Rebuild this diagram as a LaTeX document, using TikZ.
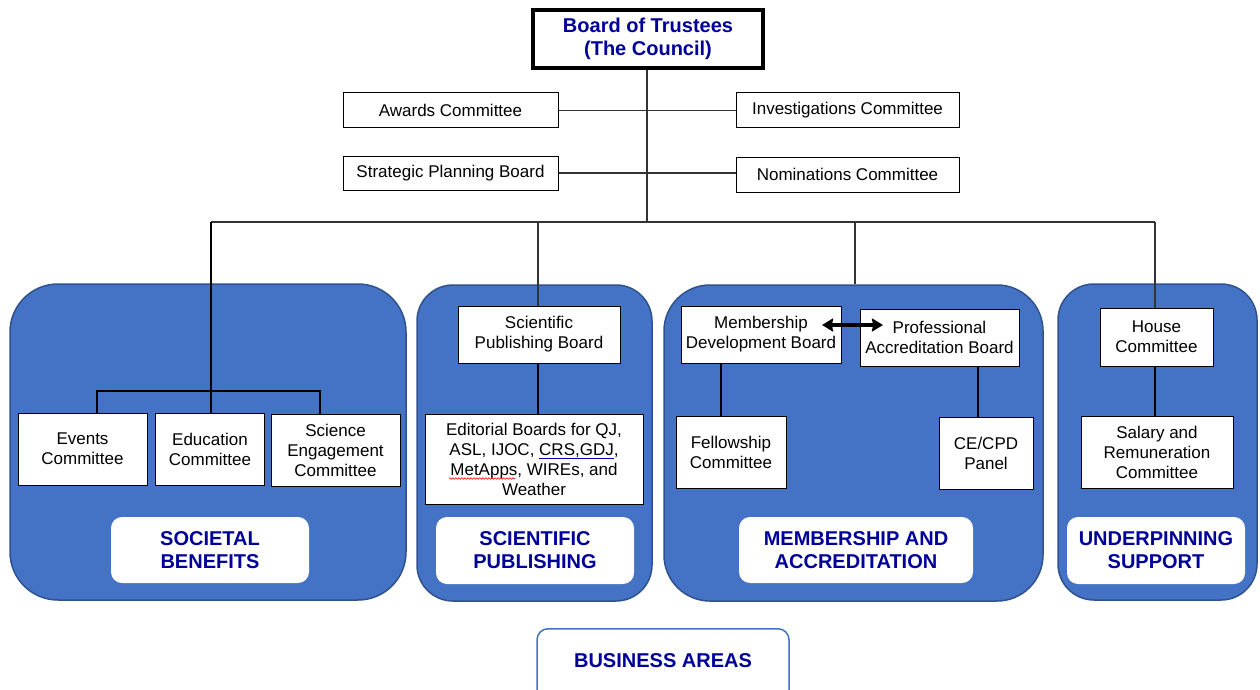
\documentclass[tikz,border=0pt]{standalone}
\usepackage{fontspec}
\setmainfont{Liberation Sans}
\usetikzlibrary{arrows.meta,decorations.pathmorphing}
\definecolor{panelblue}{HTML}{4472C4}
\definecolor{paneledge}{HTML}{2F528F}
\definecolor{navy}{RGB}{0,0,153}
\definecolor{linegrey}{HTML}{333333}
\tikzset{
  box/.style={draw=black, fill=white, text=black, align=center, inner sep=0pt, line width=1pt,
    font=\fontsize{17}{20}\selectfont},
  panel/.style={draw=paneledge, fill=panelblue, line width=1.5pt, inner sep=0pt},
  areabox/.style={fill=white, rounded corners=11pt, inner sep=0pt, align=center, text=navy,
    font=\fontsize{20}{23}\selectfont\bfseries},
  conn/.style={draw=linegrey, line width=1.2pt},
}
\begin{document}
\begin{tikzpicture}[x=1pt,y=-1pt]
\useasboundingbox (0,0) rectangle (1260,690);
% panels
\node[panel, rounded corners=48pt, minimum width=396pt, minimum height=316pt] (p1) at (208,442) {};
\node[panel, rounded corners=36pt, minimum width=235pt, minimum height=316pt] (p2) at (534.5,443) {};
\node[panel, rounded corners=46pt, minimum width=379pt, minimum height=316pt] (p3) at (853.5,443) {};
\node[panel, rounded corners=36pt, minimum width=199pt, minimum height=316pt] (p4) at (1157.5,442) {};
% board
\node[box, line width=4pt, minimum width=230pt, minimum height=58pt, text=navy,
  font=\fontsize{20}{23}\selectfont\bfseries] (board) at (648,39) {\raisebox{-2pt}{Board of Trustees}\\\raisebox{-2pt}{(The Council)}};
% committees
\node[box, minimum width=215pt, minimum height=35pt] (awards) at (450.5,110.5) {Awards Committee};
\node[box, minimum width=223pt, minimum height=35pt] (invest) at (847.5,110.5) {Investigations Committee};
\node[box, minimum width=215pt, minimum height=34pt] (strat) at (450.5,173) {Strategic Planning Board};
\node[box, minimum width=223pt, minimum height=35pt] (nomin) at (847.5,174.5) {Nominations Committee};
% bus coordinates
\coordinate (top) at (647,222);
\coordinate (b1) at (211,222);
\coordinate (b2) at (538,222);
\coordinate (b3) at (855,222);
\coordinate (b4) at (1155,222);
\draw[conn] (board.south -| top) -- (top);
\draw[conn] (awards.east) -- (awards.east -| invest.west);
\draw[conn] (strat.east) -- (strat.east -| nomin.west);
\draw[conn] (b1) -- (b4);
% societal benefits
\node[box, minimum width=129pt, minimum height=72pt] (events) at (82.5,449) {Events\\Committee};
\node[box, minimum width=109pt, minimum height=72pt] (educ) at (210,449) {Education\\Committee};
\node[box, minimum width=129pt, minimum height=72pt] (sci) at (335.5,450) {Science\\Engagement\\Committee};
\coordinate (sbL) at (97,391);
\coordinate (sbR) at (320,391);
\draw[conn, draw=black] (b1) -- (b1 |- educ.north);
\draw[conn, draw=black] (sbL |- events.north) -- (sbL) -- (sbR) -- (sbR |- sci.north);
\node[areabox, minimum width=198pt, minimum height=66pt] (l1) at (210,550) {SOCIETAL\\BENEFITS};
% scientific publishing
\node[box, minimum width=162pt, minimum height=57pt] (spb) at (539,334.5) {Scientific\\Publishing Board};
\node[box, minimum width=218pt, minimum height=90pt] (edit) at (534,459)
  {Editorial Boards for QJ,\\ASL, IJOC, {\color{blue!70!black}\underline{\color{black}CRS,GDJ}},\\MetApps, WIREs, and\\Weather};
\coordinate (wavL) at (449,478.5);
\coordinate (wavR) at (515,478.5);
\draw[red, line width=0.6pt, decorate, decoration={snake, amplitude=0.8pt, segment length=3pt}] (wavL) -- (wavR);
\draw[conn] (b2) -- (b2 |- spb.north);
\draw[conn, draw=black] (b2 |- spb.south) -- (b2 |- edit.north);
\node[areabox, minimum width=198pt, minimum height=67pt] (l2) at (535,550.5) {SCIENTIFIC\\PUBLISHING};
% membership and accreditation
\node[box, minimum width=160pt, minimum height=57pt] (mdb) at (761,334.5) {Membership\\Development Board};
\node[box, minimum width=159pt, minimum height=57pt] (pab) at (939.5,337.5) {Professional\\Accreditation Board};
\node[box, minimum width=110pt, minimum height=72pt] (fell) at (731,452) {Fellowship\\Committee};
\node[box, minimum width=94pt, minimum height=72pt] (cecpd) at (986,453) {CE/CPD\\Panel};
\coordinate (arrL) at (822,325);
\coordinate (arrR) at (883,325);
\draw[black, line width=3.2pt, {Stealth[length=11pt,width=13pt,inset=1pt]}-{Stealth[length=11pt,width=13pt,inset=1pt]}] (arrL) -- (arrR);
\coordinate (mx) at (721,0);
\coordinate (px) at (978,0);
\draw[conn, draw=black] (mx |- mdb.south) -- (mx |- fell.north);
\draw[conn, draw=black] (px |- pab.south) -- (px |- cecpd.north);
\draw[conn] (b3) -- (b3 |- p3.north);
\node[areabox, minimum width=234pt, minimum height=66pt] (l3) at (856,550) {MEMBERSHIP AND\\ACCREDITATION};
% underpinning support
\node[box, minimum width=113pt, minimum height=58pt] (house) at (1156.5,337) {House\\Committee};
\node[box, minimum width=152pt, minimum height=72pt] (salary) at (1157,452) {Salary and\\Remuneration\\Committee};
\draw[conn] (b4) -- (b4 |- house.north);
\draw[conn, draw=black] (b4 |- house.south) -- (b4 |- salary.north);
\node[areabox, minimum width=178pt, minimum height=67pt] (l4) at (1156,550.5) {UNDERPINNING\\SUPPORT};
% business areas
\node[areabox, draw=panelblue, line width=1.5pt, minimum width=252pt, minimum height=74pt, anchor=north] (biz) at (663,628) {};
\node[text=navy, font=\fontsize{20}{23}\selectfont\bfseries, inner sep=0pt] (biztext) at (663,661) {BUSINESS AREAS};
\end{tikzpicture}
\end{document}
